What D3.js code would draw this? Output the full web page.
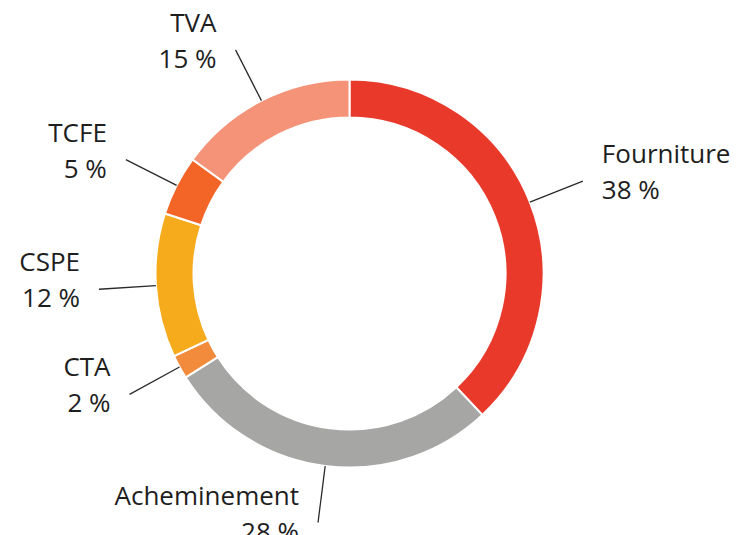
<!DOCTYPE html>
<html>
<head>
<meta charset="utf-8">
<script src="https://cdn.jsdelivr.net/npm/d3@7"></script>
<style>
    body { margin: 0; background: #fff; }
    text { font-family: "Open Sans", "Noto Sans", sans-serif; fill: #1e1e1e; }
</style>
</head>
<body>
<div id="draw_here"></div>
<script type="text/javascript">
    // Data
    labels = ["Fourniture", "Acheminement", "CTA", "CSPE", "TCFE", "TVA"]
    values = [38, 28, 2, 12, 5, 15]
    colors = ["#e8392a", "#a6a6a5", "#f28b3c", "#f5ab1c", "#f26527", "#f49377"]

    // Setup chart
    canvas = ({width: 739, height: 535})
    center = ({x: 349.5, y: 273.5})
    r_outer = 194
    r_inner = 156
    r_leader = 251

    data = labels.map((d, i) => ({label: d, value: values[i], color: colors[i]}))

    pie = d3.pie()
        .value(d => d.value)
        .sort(null)

    arc = d3.arc()
        .innerRadius(r_inner)
        .outerRadius(r_outer)

    var svg = d3.select("div#draw_here").append("svg")
        .attr("width", canvas.width)
        .attr("height", canvas.height)
        .attr("viewBox", [0, 0, canvas.width, canvas.height])

    var g = svg.append("g")
        .attr("transform", `translate(${center.x},${center.y})`)

    arcs = pie(data)

    // Slices
    g.selectAll("path.slice")
        .data(arcs)
        .join("path")
        .attr("class", "slice")
        .attr("fill", d => d.data.color)
        .attr("stroke", "#fff")
        .attr("stroke-width", 2)
        .attr("d", arc)

    // Leader lines
    function polar(a, r) {
        return [r * Math.sin(a), -r * Math.cos(a)]
    }

    g.selectAll("line.leader")
        .data(arcs)
        .join("line")
        .attr("class", "leader")
        .attr("stroke", "#2a2a2a")
        .attr("stroke-width", 1.3)
        .attr("x1", d => polar((d.startAngle + d.endAngle) / 2, r_outer)[0])
        .attr("y1", d => polar((d.startAngle + d.endAngle) / 2, r_outer)[1])
        .attr("x2", d => polar((d.startAngle + d.endAngle) / 2, r_leader)[0])
        .attr("y2", d => polar((d.startAngle + d.endAngle) / 2, r_leader)[1])

    // Labels
    var lbl = g.selectAll("text.label")
        .data(arcs)
        .join("text")
        .attr("class", "label")
        .attr("font-size", 26)
        .attr("text-anchor", d => (d.startAngle + d.endAngle) / 2 < Math.PI ? "start" : "end")
        .attr("transform", d => {
            var p = polar((d.startAngle + d.endAngle) / 2, r_leader)
            var dx = (d.startAngle + d.endAngle) / 2 < Math.PI ? 19 : -19
            return `translate(${p[0] + dx},${p[1]})`
        })

    lbl.append("tspan")
        .attr("x", 0)
        .attr("y", -18)
        .text(d => d.data.label)

    lbl.append("tspan")
        .attr("x", 0)
        .attr("y", 18)
        .text(d => d.data.value + " %")
</script>
</body>
</html>
